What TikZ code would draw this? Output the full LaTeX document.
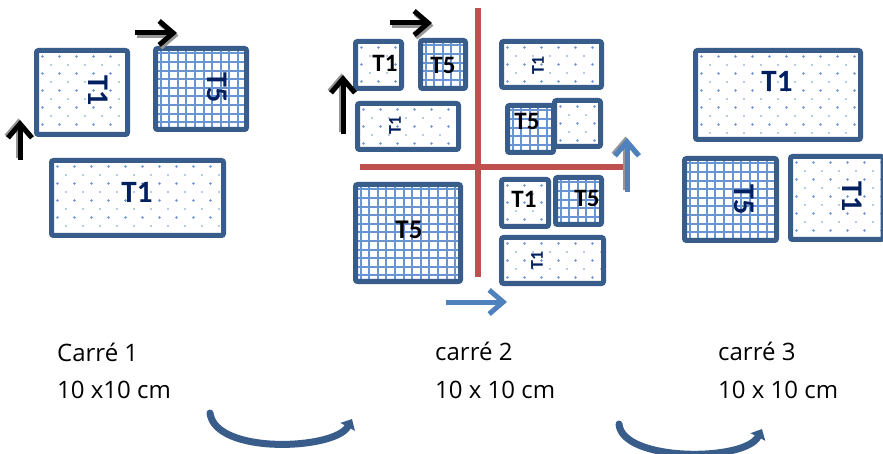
\documentclass[tikz,border=0pt]{standalone}
\usepackage{fontspec}
\setmainfont{Open Sans}
\newfontfamily\carl{Carlito}
\usetikzlibrary{arrows.meta}
\definecolor{boxblue}{RGB}{56,93,138}
\definecolor{navy}{RGB}{0,32,96}
\definecolor{dotblue}{RGB}{110,150,210}
\definecolor{gridblue}{RGB}{105,148,212}
\definecolor{redline}{RGB}{192,80,77}
\definecolor{arrowblue}{RGB}{79,129,189}
\definecolor{shadowgray}{RGB}{150,150,150}
\tikzset{
  boxline/.style={draw=boxblue, line width=5pt, rounded corners=2pt},
  gridline/.style={draw=gridblue, line width=2pt},
  lab/.style={inner sep=0pt, font=\carl\bfseries\fontsize{#1}{#1}\selectfont},
  navylab/.style={lab=#1, text=navy},
  blacklab/.style={lab=#1, text=black},
  caption/.style={anchor=base west, inner sep=0pt, font=\fontsize{24}{24}\selectfont},
  blackarrow/.style={draw=black, line width=5pt, -{Straight Barb[length=14pt,width=24pt,line width=5pt]}},
  shadowarrow/.style={draw=shadowgray, line width=5pt, -{Straight Barb[length=14pt,width=24pt,line width=5pt]}},
  bluearrow/.style={draw=arrowblue, line width=5pt, -{Straight Barb[length=14pt,width=24pt,line width=5pt]}},
  curvearrow/.style={draw=boxblue, line width=7pt, line cap=round, -{Triangle[length=9pt,width=16pt]}},
  redaxis/.style={draw=redline, line width=6pt}
}
\newcommand{\dotbox}[4]{%
  \fill[white] (#1,#2) rectangle (#3,#4);
  \begin{scope}
    \clip (#1,#2) rectangle (#3,#4);
    \foreach \j in {0,...,13}{
      \pgfmathsetmacro{\oddrow}{mod(\j,2)}
      \pgfmathsetmacro{\rr}{\oddrow<0.5 ? 1.4 : 0.9}
      \foreach \i in {0,...,11}{
        \fill[dotblue] ({#1+6+17*\i+8.5*\oddrow},{#2+6+8.5*\j}) circle[radius=\rr pt];
      }}
  \end{scope}
  \draw[boxline] (#1,#2) rectangle (#3,#4);
}
\newcommand{\gridbox}[4]{%
  \fill[white] (#1,#2) rectangle (#3,#4);
  \begin{scope}
    \clip (#1,#2) rectangle (#3,#4);
    \foreach \i in {0,...,14}{
      \draw[gridline] ({#1+5+8.6*\i},#2) -- ({#1+5+8.6*\i},#4);
      \draw[gridline] (#1,{#2+5+8.6*\i}) -- (#3,{#2+5+8.6*\i});
    }
  \end{scope}
  \draw[boxline] (#1,#2) rectangle (#3,#4);
}
\begin{document}
\begin{tikzpicture}[x=1pt,y=-1pt]
\useasboundingbox (0,0) rectangle (883,454);
\fill[white] (0,0) rectangle (883,454);

% ---------- group 1 ----------
\dotbox{36.5}{50.5}{127.5}{134.5}
\gridbox{155.5}{48.5}{246.5}{129.5}
\dotbox{51.5}{160.5}{223.5}{235.5}
\node[navylab=30, rotate=-90] (g1t1a) at (98,91) {T1};
\node[navylab=30, rotate=-90] (g1t5) at (217,88) {T5};
\node[navylab=31] (g1t1b) at (137,192) {T1};

\coordinate (g1r0) at (135,33); \coordinate (g1r1) at (177,33);
\coordinate (g1u0) at (20,160); \coordinate (g1u1) at (20,120);
\draw[shadowarrow] ([shift={(1.5,2.5)}]g1r0) -- ([shift={(1.5,2.5)}]g1r1);
\draw[blackarrow] (g1r0) -- (g1r1);
\draw[shadowarrow] ([shift={(-1.5,-1.5)}]g1u0) -- ([shift={(-1.5,-1.5)}]g1u1);
\draw[blackarrow] (g1u0) -- (g1u1);

% ---------- group 2 ----------
\dotbox{355.5}{41.5}{401.5}{88.5}
\gridbox{420.5}{40.5}{465.5}{88.5}
\dotbox{357.5}{103.5}{458.5}{149.5}
\dotbox{501.5}{41.5}{601.5}{87.5}
\gridbox{507.5}{105.5}{553.5}{152.5}
\dotbox{554.5}{100.5}{600.5}{146.5}
\gridbox{355.5}{184.5}{460.5}{281.5}
\dotbox{501.5}{179.5}{548.5}{226.5}
\gridbox{555.5}{177.5}{601.5}{224.5}
\dotbox{501.5}{237.5}{603.5}{283.5}

\node[blacklab=25] (g2t1a) at (385,63) {T1};
\node[blacklab=25] (g2t5a) at (443,65) {T5};
\node[navylab=18, rotate=90] (g2t1b) at (395,125) {T1};
\node[navylab=18, rotate=90] (g2t1c) at (538,65) {T1};
\node[blacklab=25] (g2t5b) at (527,121) {T5};
\node[blacklab=27] (g2t5c) at (409,230) {T5};
\node[blacklab=25] (g2t1d) at (524,199) {T1};
\node[blacklab=25] (g2t5d) at (587,198) {T5};
\node[navylab=18, rotate=90] (g2t1e) at (537,260) {T1};

\coordinate (vtop) at (478,8); \coordinate (vbot) at (478,277);
\coordinate (hl) at (360,167); \coordinate (hr) at (625,167);
\draw[redaxis] (vtop) -- (vbot);
\draw[redaxis] (hl) -- (hr);

\coordinate (g2r0) at (390,23); \coordinate (g2r1) at (432,23);
\coordinate (g2u0) at (343,134); \coordinate (g2u1) at (343,75);
\draw[shadowarrow] ([shift={(1.5,2.5)}]g2r0) -- ([shift={(1.5,2.5)}]g2r1);
\draw[blackarrow] (g2r0) -- (g2r1);
\draw[shadowarrow] ([shift={(-1.5,-1.5)}]g2u0) -- ([shift={(-1.5,-1.5)}]g2u1);
\draw[blackarrow] (g2u0) -- (g2u1);

\coordinate (bu0) at (627,192); \coordinate (bu1) at (627,138);
\coordinate (br0) at (446,302); \coordinate (br1) at (507,302);
\draw[shadowarrow] ([shift={(-1.5,-1.5)}]bu0) -- ([shift={(-1.5,-1.5)}]bu1);
\draw[bluearrow] (bu0) -- (bu1);
\draw[bluearrow] (br0) -- (br1);

% ---------- group 3 ----------
\dotbox{695.5}{50.5}{860.5}{139.5}
\gridbox{684.5}{158.5}{776.5}{240.5}
\dotbox{790.5}{156.5}{883}{239.5}
\node[navylab=31] (g3t1a) at (777,81) {T1};
\node[navylab=30, rotate=-90] (g3t5) at (744,200) {T5};
\node[navylab=30, rotate=-90] (g3t1b) at (852,197) {T1};

% ---------- captions ----------
\node[caption] (c1a) at (57,361) {Carré 1};
\node[caption] (c1b) at (57,398) {10 x10 cm};
\node[caption] (c2a) at (435,360) {carré 2};
\node[caption] (c2b) at (435,398) {10 x 10 cm};
\node[caption] (c3a) at (718,360) {carré 3};
\node[caption] (c3b) at (718,398) {10 x 10 cm};

% ---------- curved arrows ----------
\coordinate (a1s) at (210,413); \coordinate (a1e) at (352,419);
\coordinate (a2s) at (619,424); \coordinate (a2e) at (762,429);
\draw[curvearrow] (a1s) .. controls (215,455) and (335,450) .. (a1e);
\draw[curvearrow] (a2s) .. controls (622,462) and (745,462) .. (a2e);
\end{tikzpicture}
\end{document}
